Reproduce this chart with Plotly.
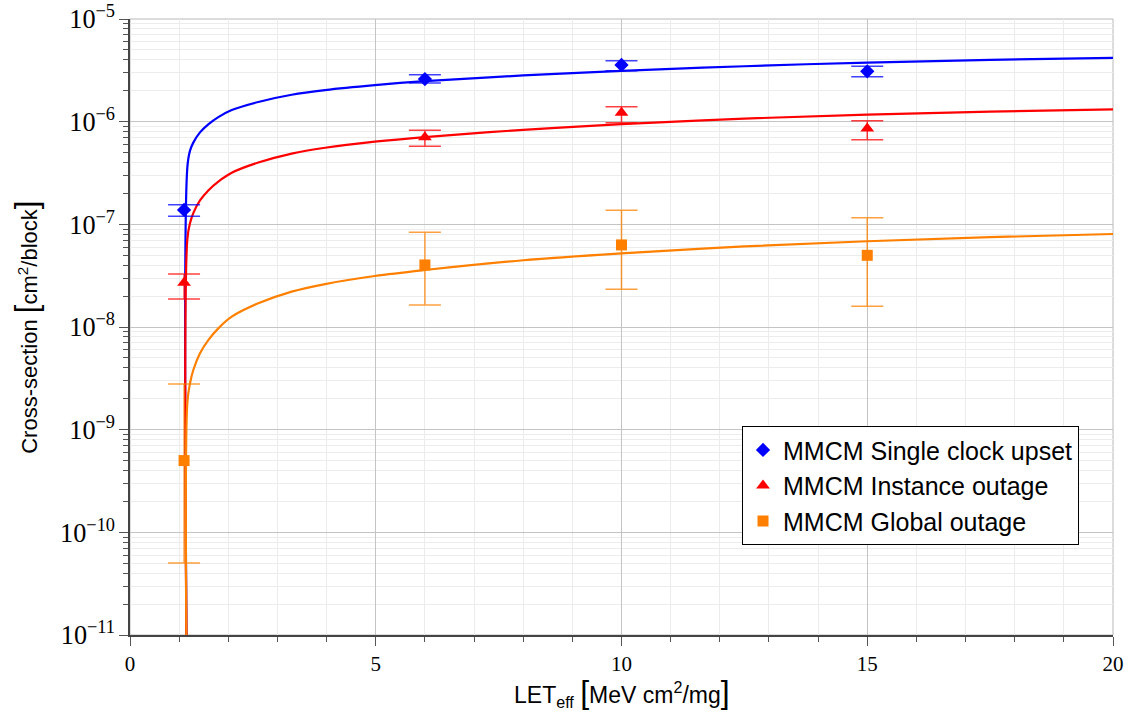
import plotly.graph_objects as go

# ---------------- data ----------------
let_pts = [1.1, 6, 10, 15]

# MMCM Single clock upset
sc_y  = [1.38e-7, 2.60e-6, 3.57e-6, 3.09e-6]
sc_hi = [1.55e-7, 2.87e-6, 3.93e-6, 3.46e-6]
sc_lo = [1.20e-7, 2.38e-6, 3.14e-6, 2.74e-6]

# MMCM Instance outage
io_y  = [2.70e-8, 7.05e-7, 1.22e-6, 8.60e-7]
io_hi = [3.28e-8, 8.24e-7, 1.40e-6, 1.02e-6]
io_lo = [1.87e-8, 5.75e-7, 9.78e-7, 6.68e-7]

# MMCM Global outage
go_y  = [5.0e-10, 4.02e-8, 6.30e-8, 4.99e-8]
go_hi = [2.79e-9, 8.36e-8, 1.37e-7, 1.16e-7]
go_lo = [5.04e-11, 1.64e-8, 2.33e-8, 1.59e-8]

# fitted curves
fit_sc_x = [1.166, 1.166, 1.221, 1.288, 1.424, 1.593, 1.797, 2.07, 2.61, 3.29, 3.97, 4.98, 6, 8, 10, 12.5, 15, 17.5, 20]
fit_sc_y = [1e-12, 3.55e-7, 5.22e-7, 6.25e-7, 7.87e-7, 9.42e-7, 1.107e-6, 1.297e-6, 1.556e-6, 1.828e-6,
            2.028e-6, 2.265e-6, 2.477e-6, 2.818e-6, 3.126e-6, 3.467e-6, 3.767e-6, 3.999e-6, 4.188e-6]

fit_io_x = [1.166, 1.166, 1.221, 1.288, 1.424, 1.593, 1.797, 2.07, 2.61, 3.29, 3.97, 4.98, 6, 8, 10, 12.5, 15, 17.5, 20]
fit_io_y = [1e-12, 7.08e-8, 1.026e-7, 1.285e-7, 1.71e-7, 2.14e-7, 2.61e-7, 3.18e-7, 4.00e-7, 4.89e-7,
            5.57e-7, 6.38e-7, 7.08e-7, 8.32e-7, 9.46e-7, 1.072e-6, 1.17e-6, 1.25e-6, 1.318e-6]

fit_go_x = [1.166, 1.166, 1.221, 1.288, 1.424, 1.593, 1.797, 2.07, 2.61, 3.29, 3.97, 4.98, 6, 8, 10, 12.5, 15, 17.5, 20]
fit_go_y = [1e-12, 1.81e-9, 2.83e-9, 3.81e-9, 5.55e-9, 7.46e-9, 9.7e-9, 1.26e-8, 1.70e-8, 2.21e-8,
            2.62e-8, 3.14e-8, 3.59e-8, 4.47e-8, 5.22e-8, 6.10e-8, 6.84e-8, 7.50e-8, 8.05e-8]

series = [
    ("MMCM Single clock upset", sc_y, sc_hi, sc_lo, fit_sc_x, fit_sc_y, "#0000ff", "rgba(0,0,255,0.75)", "diamond", 11),
    ("MMCM Instance outage", io_y, io_hi, io_lo, fit_io_x, fit_io_y, "#ff0000", "rgba(255,0,0,0.75)", "triangle-up", 12),
    ("MMCM Global outage", go_y, go_hi, go_lo, fit_go_x, fit_go_y, "#ff8000", "rgba(255,128,0,0.75)", "square", 11),
]

fig = go.Figure()

for name, y, hi, lo, fx, fy, col, ecol, sym, msz in series:
    fig.add_trace(go.Scatter(
        x=fx, y=fy, mode="lines", line=dict(color=col, width=2.2, shape="spline", smoothing=1.0),
        showlegend=False, hoverinfo="skip"))

for name, y, hi, lo, fx, fy, col, ecol, sym, msz in series:
    fig.add_trace(go.Scatter(
        x=let_pts, y=y, mode="markers", name=name,
        marker=dict(symbol=sym, size=msz, color=col, line=dict(width=0)),
        error_y=dict(type="data", symmetric=False,
                     array=[h - v for h, v in zip(hi, y)],
                     arrayminus=[v - l for v, l in zip(y, lo)],
                     color=ecol, thickness=1.5, width=16),
    ))

axis_common = dict(
    showgrid=True, gridcolor="#c4c4c4", gridwidth=1,
    ticks="outside", ticklen=9, tickcolor="#555555", tickwidth=1,
    showline=True, linecolor="#444444", linewidth=1.5,
    zeroline=False, automargin=False,
    tickfont=dict(family="Liberation Serif", size=21, color="black"),
)

fig.update_xaxes(
    range=[0, 20], tick0=0, dtick=5,
    minor=dict(dtick=1, showgrid=True, gridcolor="#ececec", ticks="outside", ticklen=5, tickcolor="#555555"),
    **axis_common)

fig.update_yaxes(
    type="log", range=[-11, -5], dtick=1, exponentformat="power", showexponent="all",
    minor=dict(dtick="D1", showgrid=True, gridcolor="#ececec", ticks="outside", ticklen=5, tickcolor="#555555"),
    **axis_common)

# light frame on top/right
fig.add_shape(type="rect", xref="paper", yref="paper", x0=0, y0=0, x1=1, y1=1,
              line=dict(color="#b8b8b8", width=1), layer="below")

fig.add_annotation(
    xref="paper", yref="paper", x=-0.106, y=0.5, xanchor="center", yanchor="middle",
    textangle=-90, showarrow=False,
    text="Cross-section <span style='font-size:31px'>[</span>cm<sup>2</sup>/block<span style='font-size:31px'>]</span>",
    font=dict(family="Liberation Sans", size=22, color="black"))

fig.add_annotation(
    xref="paper", yref="paper", x=0.5, y=-0.094, xanchor="center", yanchor="middle",
    showarrow=False,
    text="LET<sub>eff</sub> <span style='font-size:32px'>[</span>MeV cm<sup>2</sup>/mg<span style='font-size:32px'>]</span>",
    font=dict(family="Liberation Sans", size=23, color="black"))

fig.update_layout(
    width=1128, height=720,
    margin=dict(l=130, r=15, t=19, b=85),
    plot_bgcolor="white", paper_bgcolor="white",
    legend=dict(x=0.6226, y=0.339, xanchor="left", yanchor="top",
                bgcolor="white", bordercolor="black", borderwidth=1,
                font=dict(family="Liberation Sans", size=25, color="black"),
                itemwidth=30, tracegroupgap=0),
)

fig.write_html("out.html")
